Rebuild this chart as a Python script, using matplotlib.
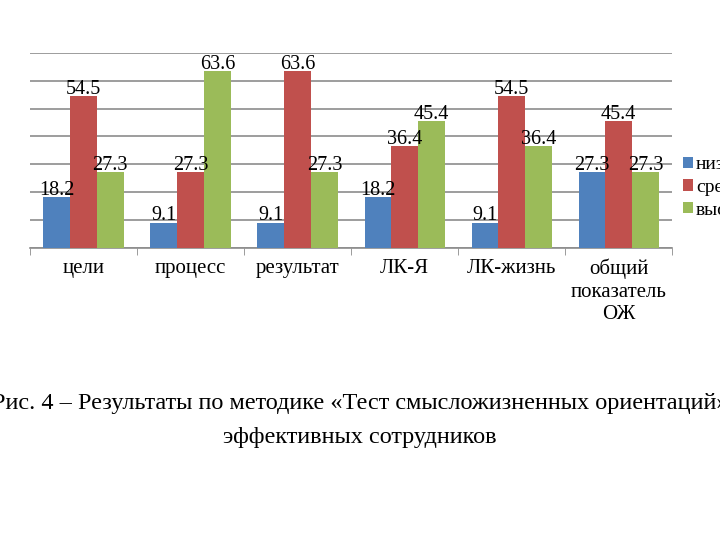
import numpy as np
import matplotlib.pyplot as plt

categories = ['цели', 'процесс', 'результат', 'ЛК-Я', 'ЛК-жизнь',
              'общий\nпоказатель\nОЖ']
series_names = ['низкий', 'средний', 'высокий']
low = [18.2, 9.1, 9.1, 18.2, 9.1, 27.3]
mid = [54.5, 27.3, 63.6, 36.4, 54.5, 45.4]
high = [27.3, 63.6, 27.3, 45.4, 36.4, 27.3]
colors = ['#4F81BD', '#C0504D', '#9BBB59']

plt.rcParams['font.family'] = ['Liberation Serif', 'DejaVu Serif']

fig = plt.figure(figsize=(7.2, 5.4), dpi=100)
ax = fig.add_axes([0.0417, 0.541, 0.892, 0.361])

x = np.arange(len(categories))
w = 0.25
for i, (vals, name) in enumerate(zip([low, mid, high], series_names)):
    bars = ax.bar(x + (i - 1) * w, vals, w, color=colors[i], label=name,
                  zorder=3)
    ax.bar_label(bars, labels=[f'{v:.1f}' for v in vals], padding=-2,
                 fontsize=14.5, zorder=4)

ax.set_xlim(-0.5, len(categories) - 0.5)
ax.set_ylim(0, 70)
ax.set_yticks(np.arange(0, 71, 10))
ax.yaxis.grid(True, color='#8c8c8c', linewidth=1.2, zorder=0)
ax.set_yticklabels([])
ax.tick_params(axis='y', length=0)

ax.set_xticks(x)
ax.set_xticklabels(categories, fontsize=15, linespacing=1.25)
ax.tick_params(axis='x', which='major', length=0, pad=8)
ax.set_xticks(np.arange(-0.5, len(categories)), minor=True)
ax.tick_params(axis='x', which='minor', length=5, color='#8c8c8c')

for s in ['top', 'right', 'left']:
    ax.spines[s].set_visible(False)
ax.spines['bottom'].set_color('#8c8c8c')
ax.spines['bottom'].set_linewidth(1.2)
ax.set_facecolor('none')

ax.legend(loc='center left', bbox_to_anchor=(1.005, 0.31), frameon=False,
          fontsize=14, handlelength=0.5, handleheight=0.5,
          handletextpad=0.15, labelspacing=0.3, borderaxespad=0)

fig.text(0.5, 0.253, 'Рис. 4 – Результаты по методике «Тест смысложизненных ориентаций»',
         ha='center', va='center', fontsize=17.5)
fig.text(0.5, 0.19, 'эффективных сотрудников', ha='center', va='center',
         fontsize=17.5)

fig.savefig('out.png', dpi=100)
